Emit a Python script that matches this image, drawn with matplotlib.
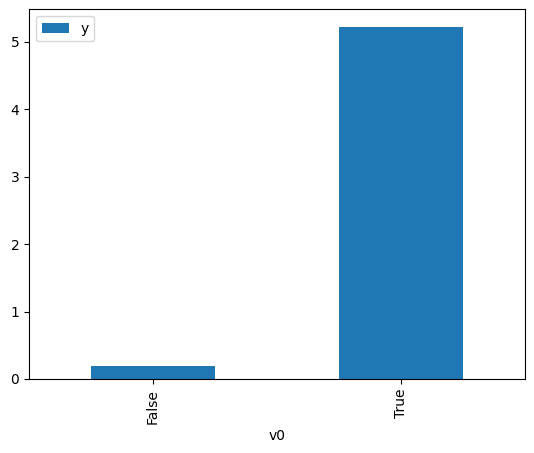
import matplotlib
matplotlib.use("Agg")
import matplotlib.pyplot as plt
import pandas as pd

categories = [False, True]
y_values = [0.19, 5.22]

df = pd.DataFrame({"v0": categories, "y": y_values}).set_index("v0")

fig = plt.figure(figsize=(5.34, 4.53), dpi=100)
ax = fig.add_axes([29 / 534, 1 - 379 / 453, 496 / 534, 369.6 / 453])
df.plot.bar(ax=ax)

fig.savefig("out.png", dpi=100)
